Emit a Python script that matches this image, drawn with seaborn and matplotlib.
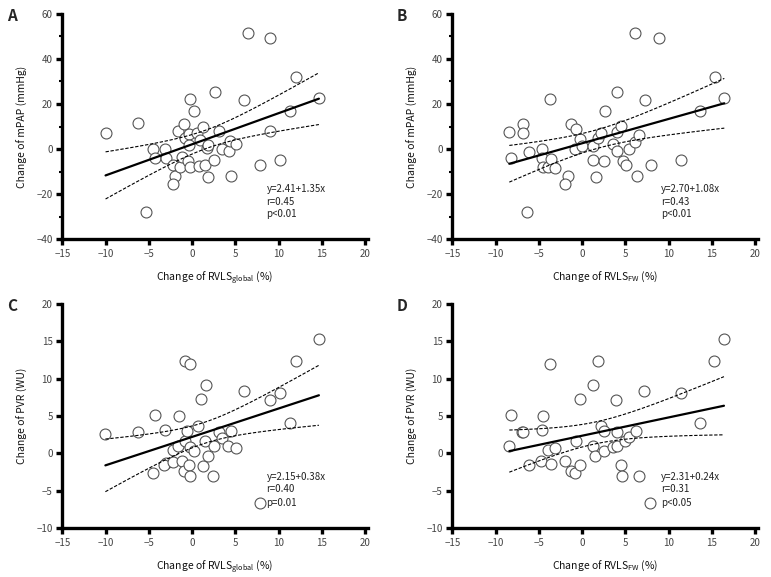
import numpy as np
import pandas as pd
import matplotlib
matplotlib.use("Agg")
import matplotlib.pyplot as plt
import seaborn as sns
from matplotlib.ticker import MultipleLocator

# ---------------- data ----------------
a_x = [-10.0, -6.25, -5.37, -4.49, -4.27, -3.12, -3.0, -2.17, -1.94, -2.17, -1.41, -1.68,
       -0.88, -1.14, -0.84, -0.34, -0.46, -0.19, -0.34, -0.19, 0.19, 0.57, 0.95, 1.22,
       0.84, 1.45, 1.71, 1.79, 1.79, 2.48, 2.67, 3.12, 3.43, 4.27, 4.38, 4.46, 5.03,
       6.02, 6.47, 7.88, 8.95, 8.99, 10.13, 11.35, 11.96, 14.66]
a_y = [6.9, 11.5, -27.9, 0.1, -4.2, 0.0, -4.2, -7.2, -11.9, -15.5, -8.2, 7.8,
       11.3, -3.7, 4.8, 6.6, -5.2, -8.2, 1.8, 22.4, 16.9, 7.3, 4.2, 10.0,
       -7.6, -7.2, 0.3, 1.8, -12.4, -5.1, 25.5, 7.8, 0.1, -0.7, 3.6, -11.9, 2.1,
       21.8, 51.6, -7.0, 7.8, 49.4, -4.9, 16.9, 32.1, 22.5]

b_x = [-8.41, -8.18, -6.81, -6.81, -6.36, -6.13, -4.64, -4.64, -4.49, -3.92, -3.58, -3.08,
       -3.65, -1.6, -1.98, -1.33, -0.65, -0.84, -0.19, 0.0, 1.26, 1.26, 1.56, 1.83,
       2.17, 2.59, 2.7, 3.58, 4.0, 4.0, 4.07, 4.49, 4.72, 5.02, 5.41, 6.09, 6.32,
       6.62, 6.09, 7.23, 7.92, 8.87, 11.42, 13.67, 15.38, 16.44]
b_y = [7.6, -4.0, 11.3, 6.9, -27.9, -1.5, 0.0, -4.0, -8.1, -7.8, -4.3, -8.4,
       22.4, -11.8, -15.7, 11.3, 8.7, 0.0, 4.5, 1.2, 1.5, -4.9, -12.4, 5.1,
       7.0, -5.4, 16.7, 2.2, 7.6, 25.5, -0.9, 10.3, -5.4, -7.0, 0.1, 3.3, -11.9,
       6.4, 51.6, 21.8, -7.0, 49.4, -4.9, 16.7, 32.1, 22.5]

c_x = [-10.02, -6.25, -4.49, -4.27, -3.12, -3.0, -3.2, -2.17, -2.25, -1.68, -1.49, -1.14,
       -0.88, -0.84, -0.84, -0.57, -0.34, -0.27, -0.19, -0.19, 0.19, 0.65, 0.99,
       1.22, 1.45, 1.64, 1.79, 2.48, 2.4, 3.12, 3.43, 4.19, 4.46, 5.07, 6.02,
       7.88, 8.95, 10.13, 11.35, 11.96, 14.66]
c_y = [2.6, 2.9, -2.6, 5.2, 3.1, -1.3, -1.6, -1.1, 0.4, 1.0, 5.0, -1.0,
       -2.4, 1.7, 12.4, 3.0, -1.5, -3.0, 12.0, 0.8, 0.3, 3.7, 7.3,
       -1.7, 1.7, 9.1, -0.4, 1.0, -3.0, 2.8, 2.1, 1.0, 3.0, 0.7, 8.3,
       -6.7, 7.2, 8.1, 4.1, 12.3, 15.3]

d_x = [-8.41, -8.26, -6.93, -6.81, -6.13, -4.76, -4.64, -4.57, -3.96, -3.62, -3.65, -3.12,
       -1.98, -1.33, -0.84, -0.65, -0.23, -0.19, 1.22, 1.26, 1.52, 1.79, 2.13,
       2.59, 2.59, 3.58, 3.92, 4.0, 4.0, 4.45, 4.64, 4.95, 5.41, 6.28, 6.55,
       7.19, 7.88, 11.38, 13.67, 15.27, 16.4]
d_y = [1.0, 5.2, 2.8, 2.9, -1.6, -1.0, 3.1, 5.0, 0.4, -1.4, 12.0, 0.7,
       -1.0, -2.4, -2.6, 1.7, 7.3, -1.5, 9.1, 1.0, -0.4, 12.4, 3.6,
       3.0, 0.3, 0.8, 7.2, 1.0, 2.8, -1.6, -3.0, 1.7, 2.2, 3.0, -3.1,
       8.3, -6.7, 8.1, 4.1, 12.3, 15.3]

panel_letters = ["A", "B", "C", "D"]
x_labels = [r"Change of RVLS$_{\mathrm{global}}$ (%)", r"Change of RVLS$_{\mathrm{FW}}$ (%)",
            r"Change of RVLS$_{\mathrm{global}}$ (%)", r"Change of RVLS$_{\mathrm{FW}}$ (%)"]
y_labels = ["Change of mPAP (mmHg)", "Change of mPAP (mmHg)",
            "Change of PVR (WU)", "Change of PVR (WU)"]
stats_text = [["y=2.41+1.35x", "r=0.45", "p<0.01"],
              ["y=2.70+1.08x", "r=0.43", "p<0.01"],
              ["y=2.15+0.38x", "r=0.40", "p=0.01"],
              ["y=2.31+0.24x", "r=0.31", "p<0.05"]]
x_ticks = [-15, -10, -5, 0, 5, 10, 15, 20]
y_ticks_top = [-40, -20, 0, 20, 40, 60]
y_ticks_bottom = [-10, -5, 0, 5, 10, 15, 20]

# ---------------- style ----------------
sns.set_style("white")
FONT = ["Noto Sans CJK KR", "DejaVu Sans"]
plt.rcParams["font.family"] = FONT
plt.rcParams["mathtext.fontset"] = "custom"
plt.rcParams["mathtext.rm"] = "Noto Sans CJK KR"
plt.rcParams["mathtext.it"] = "Noto Sans CJK KR"

fig = plt.figure(figsize=(7.71, 5.77), dpi=100)
W, H = 771.0, 577.0
positions = [
    (62.3, 14, 367.7, 239),
    (452.3, 14, 757.7, 239),
    (62.3, 304, 367.7, 528),
    (452.3, 304, 757.7, 528),
]
datasets = [(a_x, a_y), (b_x, b_y), (c_x, c_y), (d_x, d_y)]
text_pos = [(8.6, [-17.6, -23.4, -29.0]),
            (9.1, [-17.6, -23.4, -29.0]),
            (8.6, [-3.13, -4.84, -6.7]),
            (9.1, [-3.13, -4.84, -6.7])]

for i, (pos, (xs, ys)) in enumerate(zip(positions, datasets)):
    l, t, r, b = pos
    ax = fig.add_axes([l / W, 1 - b / H, (r - l) / W, (b - t) / H])
    df = pd.DataFrame({"x": xs, "y": ys})

    sns.scatterplot(data=df, x="x", y="y", ax=ax, marker="o", s=62,
                    facecolor="white", edgecolor="#555555", linewidth=0.8, zorder=3)
    sns.regplot(data=df, x="x", y="y", ax=ax, scatter=False, ci=None,
                line_kws=dict(color="black", lw=1.6, zorder=4))

    # 95% confidence band of the regression line (dashed)
    x = np.asarray(xs, float)
    y = np.asarray(ys, float)
    n = len(x)
    slope, intercept = np.polyfit(x, y, 1)
    resid = y - (intercept + slope * x)
    s = np.sqrt(np.sum(resid ** 2) / (n - 2))
    xm = x.mean()
    sxx = np.sum((x - xm) ** 2)
    xg = np.linspace(x.min(), x.max(), 100)
    yg = intercept + slope * xg
    se = s * np.sqrt(1.0 / n + (xg - xm) ** 2 / sxx)
    tval = 2.015
    ax.plot(xg, yg + tval * se, color="black", lw=0.8, ls=(0, (3, 1.5)), zorder=4)
    ax.plot(xg, yg - tval * se, color="black", lw=0.8, ls=(0, (3, 1.5)), zorder=4)

    ax.set_xlim(-15, 20.3)
    ax.set_xticks(x_ticks)
    if i < 2:
        ax.set_ylim(-40, 60)
        ax.set_yticks(y_ticks_top)
        ax.yaxis.set_minor_locator(MultipleLocator(10))
    else:
        ax.set_ylim(-10, 20)
        ax.set_yticks(y_ticks_bottom)

    for side in ["top", "right"]:
        ax.spines[side].set_visible(False)
    for side in ["left", "bottom"]:
        ax.spines[side].set_linewidth(2.4)
        ax.spines[side].set_color("black")
    ax.tick_params(axis="both", which="major", direction="out", length=4, width=2.4,
                   color="black", labelsize=7, labelcolor="#444444", pad=3,
                   left=True, bottom=True)
    ax.tick_params(axis="y", which="minor", direction="out", length=2, width=1.5,
                   color="black", left=True)
    ax.set_xlabel(x_labels[i], fontsize=7.5, labelpad=8, color="#111111")
    ax.set_ylabel(y_labels[i], fontsize=7.5, labelpad=6, color="#111111")

    tx, tys = text_pos[i]
    for line, ty in zip(stats_text[i], tys):
        ax.text(tx, ty, line, fontsize=7, va="center", ha="left", color="#222222", zorder=5)

    fig.text((l - 50) / W, 1 - (t + 2) / H, panel_letters[i], fontsize=11,
             fontweight="bold", ha="center", va="center")

fig.savefig("out.png", dpi=100)
